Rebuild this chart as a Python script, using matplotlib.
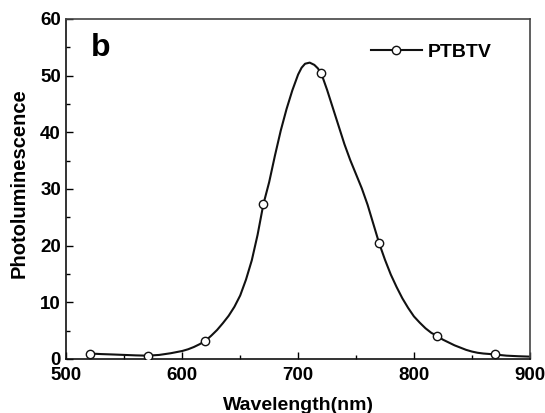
import matplotlib
matplotlib.use('Agg')
import matplotlib.pyplot as plt
from matplotlib.lines import Line2D
from matplotlib.ticker import MultipleLocator

plt.rcParams['font.family'] = ['Liberation Sans', 'DejaVu Sans']
plt.rcParams['font.weight'] = 'bold'

# PL spectrum
wavelength = [520, 530, 540, 550, 560, 570, 580, 590, 600, 605, 610, 615,
              620, 625, 630, 635, 640, 645, 650, 655, 660, 665, 670, 675,
              680, 685, 690, 695, 700, 703, 706, 710, 714, 717, 720, 725, 730, 735,
              740, 745, 750, 755, 760, 765, 770, 775, 780, 785, 790, 795,
              800, 805, 810, 815, 820, 825, 830, 835, 840, 845, 850, 855,
              860, 865, 870, 875, 880, 890, 900]
intensity = [0.95, 0.85, 0.78, 0.7, 0.62, 0.57, 0.7, 1.0, 1.4, 1.7, 2.1, 2.6,
             3.2, 4.1, 5.1, 6.3, 7.6, 9.2, 11.2, 14.0, 17.4, 21.9, 27.3, 31.2,
             35.9, 40.3, 44.1, 47.4, 50.2, 51.4, 52.1, 52.3, 51.9, 51.3, 50.4, 47.5, 44.3, 41.1,
             37.9, 35.1, 32.6, 30.1, 27.2, 23.8, 20.4, 17.5, 14.9, 12.7, 10.7, 9.0,
             7.5, 6.4, 5.4, 4.6, 4.05, 3.4, 2.9, 2.4, 2.0, 1.6, 1.3, 1.08,
             0.95, 0.87, 0.8, 0.67, 0.57, 0.47, 0.4]

marker_x = [520, 570, 620, 670, 720, 770, 820, 870]
marker_y = [0.95, 0.57, 3.2, 27.3, 50.4, 20.4, 4.05, 0.8]

fig = plt.figure(figsize=(5.45, 4.13), dpi=100)
ax = fig.add_axes([0.122, 0.131, 0.850, 0.823])

ax.plot(wavelength, intensity, color='#111111', lw=1.5, zorder=2)
ax.plot(marker_x, marker_y, ls='none', marker='o', ms=6, mfc='white',
        mec='#111111', mew=1.0, zorder=3)

ax.set_xlim(500, 900)
ax.set_ylim(0, 60)
ax.xaxis.set_major_locator(MultipleLocator(100))
ax.xaxis.set_minor_locator(MultipleLocator(50))
ax.yaxis.set_major_locator(MultipleLocator(10))
ax.yaxis.set_minor_locator(MultipleLocator(5))
ax.tick_params(which='both', direction='in', top=False, right=False,
               labelsize=13.5, width=1.0)
ax.tick_params(axis='x', which='major', length=5, pad=5.5)
ax.tick_params(axis='y', which='major', length=5, pad=4)
ax.tick_params(which='minor', length=3)
for lab in ax.get_xticklabels() + ax.get_yticklabels():
    lab.set_fontweight('bold')

for side in ['left', 'bottom']:
    ax.spines[side].set_linewidth(1.2)
    ax.spines[side].set_color('#111111')
for side in ['top', 'right']:
    ax.spines[side].set_linewidth(1.2)
    ax.spines[side].set_color('#444444')

ax.set_xlabel('Wavelength(nm)', fontsize=14, fontweight='bold', labelpad=10)
ax.set_ylabel('Photoluminescence', fontsize=14.5, fontweight='bold')
ax.yaxis.set_label_coords(-0.081, 0.518)

ax.text(0.052, 0.916, 'b', transform=ax.transAxes, fontsize=23,
        fontweight='bold', ha='left', va='center')

handle = Line2D([], [], color='#111111', lw=1.5, marker='o', ms=6,
                mfc='white', mec='#111111', mew=1.0)
ax.legend([handle], ['PTBTV'], loc='upper right', bbox_to_anchor=(0.955, 0.981),
          frameon=False, numpoints=1, handlelength=2.6, handletextpad=0.3,
          prop={'weight': 'bold', 'size': 14})

fig.savefig('out.png', dpi=100)
